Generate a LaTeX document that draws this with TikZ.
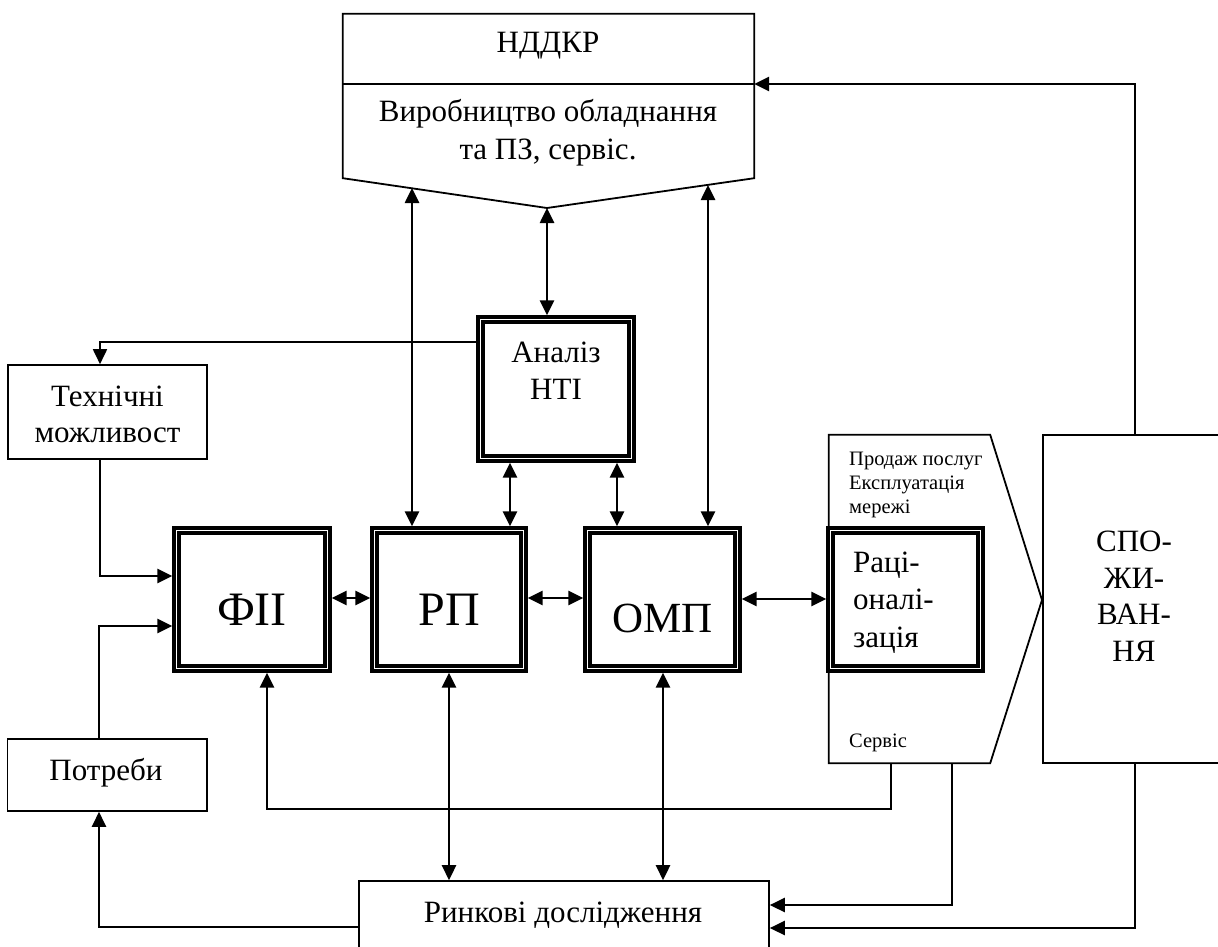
\documentclass[tikz,border=0pt]{standalone}
\usepackage{fontspec}
\setmainfont{Liberation Serif}
\usetikzlibrary{arrows.meta}
\tikzset{
  tip/.tip={Triangle[length=15pt,width=14pt]},
  box/.style={draw,line width=1.6pt,inner sep=0pt},
  hidden/.style={inner sep=0pt},
  dbox/.style={draw,line width=3.2pt,double=white,double distance=1.8pt,outer sep=4.2pt,inner sep=0pt},
  txt/.style={anchor=base,inner sep=0pt,font=\fontsize{31}{37}\selectfont},
  big/.style={anchor=base,inner sep=0pt,font=\fontsize{48}{56}\selectfont},
  small/.style={anchor=base west,inner sep=0pt,font=\fontsize{20.5}{24}\selectfont},
  ln/.style={line width=1.8pt},
  arr/.style={line width=2.6pt,-tip},
  darr/.style={line width=2.6pt,tip-tip},
}
\begin{document}
\begin{tikzpicture}[x=1pt,y=-1pt]
\useasboundingbox (0,0) rectangle (1218,947);
\clip (0,0) rectangle (1218,947);

% top box (НДДКР)
\node[hidden,minimum width=411pt,minimum height=164pt] (ndd) at (548.5,96) {};
\coordinate (apex) at (547,208);
\draw[ln] (ndd.south west) -- (ndd.north west) -- (ndd.north east) -- (ndd.south east) -- (apex) -- cycle;
\coordinate (divL) at (343,84);
\coordinate (divR) at (754,84);
\draw[ln] (divL) -- (divR);
\node[txt] (nddkr) at (548,53) {НДДКР};
\node[txt] (vyr1) at (548,122) {Виробництво обладнання};
\node[txt] (vyr2) at (548,160) {та ПЗ, сервіс.};
\coordinate (slopeL) at (412,188);
\coordinate (slopeR) at (708,185);

% Аналіз НТІ
\node[dbox,minimum width=151pt,minimum height=139pt] (analiz) at (556,389) {};
\node[txt] (an1) at (556,362) {Аналіз};
\node[txt] (an2) at (556,399) {НТІ};

% Технічні можливост
\node[box,minimum width=199pt,minimum height=94pt] (tech) at (107.5,412) {};
\node[txt] (te1) at (107.5,406) {Технічні};
\node[txt] (te2) at (107.5,442) {можливост};

% Потреби
\node[box,minimum width=199.5pt,minimum height=72pt] (potr) at (107.25,775) {};
\node[txt] (po1) at (106,780) {Потреби};

% main row
\node[dbox,minimum width=151pt,minimum height=138pt] (fii) at (252,599.5) {};
\node[big] (fiiT) at (252,625) {ФІІ};
\node[dbox,minimum width=149pt,minimum height=138pt] (rp) at (449,599.5) {};
\node[big] (rpT) at (449,625) {РП};
\node[dbox,minimum width=150pt,minimum height=138pt] (omp) at (662.5,599.5) {};
\node[big,font=\fontsize{43}{50}\selectfont] (ompT) at (662.5,632) {ОМП};

% pentagon with Раціоналізація
\node[hidden,minimum width=161pt,minimum height=328pt] (pent) at (909.5,599) {};
\coordinate (ptip) at (1042,600);
\draw[ln] (pent.north west) -- (pent.north east) -- (ptip) -- (pent.south east) -- (pent.south west) -- cycle;
\node[small] (pr1) at (849,465) {Продаж послуг};
\node[small] (pr2) at (849,489) {Експлуатація};
\node[small] (pr3) at (849,513) {мережі};
\node[small] (serv) at (849,747) {Сервіс};
\node[dbox,fill=white,minimum width=150pt,minimum height=138pt] (rac) at (905.5,599.5) {};
\node[txt,anchor=base west] (ra1) at (853,572) {Раці-};
\node[txt,anchor=base west] (ra2) at (853,609) {оналі-};
\node[txt,anchor=base west] (ra3) at (853,647) {зація};

% СПОЖИВАННЯ
\node[box,minimum width=184pt,minimum height=328pt] (spoz) at (1135,599) {};
\node[txt] (sp1) at (1134,551) {СПО-};
\node[txt] (sp2) at (1134,588) {ЖИ-};
\node[txt] (sp3) at (1134,624) {ВАН-};
\node[txt] (sp4) at (1134,661) {НЯ};

% Ринкові дослідження
\node[box,minimum width=410pt,minimum height=109pt] (rynk) at (564,935.5) {};
\node[txt] (ry1) at (563,922) {Ринкові дослідження};

% connectors
\coordinate (c1) at (1135,84);
\draw[arr] (spoz.north) -- (c1) -- (ndd.east |- c1);

\draw[darr] (apex) -- (apex |- analiz.north);
\draw[darr] (slopeL) -- (slopeL |- rp.north);
\draw[darr] (slopeR) -- (slopeR |- omp.north);

\coordinate (a1) at (476,342);
\coordinate (a2) at (100,342);
\draw[ln,-tip] (a1) -- (a2) -- (a2 |- tech.north);

\coordinate (t1) at (100,459);
\coordinate (t2) at (100,576);
\draw[arr] (t1) -- (t2) -- (t2 -| fii.west);

\coordinate (p1) at (99,739);
\coordinate (p2) at (99,626);
\draw[arr] (p1) -- (p2) -- (p2 -| fii.west);

\coordinate (r1) at (99,927);
\draw[arr] (rynk.west |- r1) -- (r1) -- (r1 |- potr.south);

\coordinate (s1) at (891,763);
\coordinate (s2) at (891,809);
\coordinate (s3) at (267,809);
\draw[arr] (s1) -- (s2) -- (s3) -- (s3 |- fii.south);

\coordinate (s4) at (952,763);
\coordinate (s5) at (952,905);
\draw[arr] (s4) -- (s5) -- (s5 -| rynk.east);

\coordinate (s6) at (1135,928);
\draw[arr] (spoz.south) -- (s6) -- (s6 -| rynk.east);

\coordinate (h1) at (0,598);
\draw[darr] (fii.east |- h1) -- (rp.west |- h1);
\draw[darr] (rp.east |- h1) -- (omp.west |- h1);
\coordinate (h2) at (0,599);
\draw[darr] (omp.east |- h2) -- (rac.west |- h2);

\coordinate (v1) at (510,0);
\coordinate (v2) at (617,0);
\draw[darr] (v1 |- analiz.south) -- (v1 |- rp.north);
\draw[darr] (v2 |- analiz.south) -- (v2 |- omp.north);

\coordinate (v3) at (449,0);
\coordinate (v4) at (663,0);
\draw[darr] (v3 |- rp.south) -- (v3 |- rynk.north);
\draw[darr] (v4 |- omp.south) -- (v4 |- rynk.north);
\end{tikzpicture}
\end{document}
